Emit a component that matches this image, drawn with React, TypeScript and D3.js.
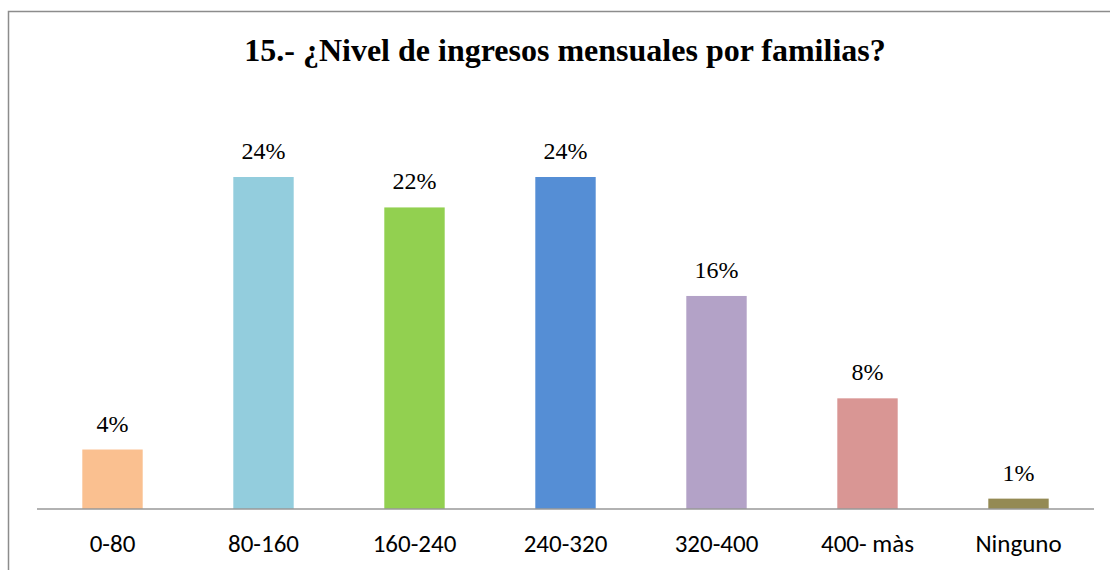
import React from "react";
import * as d3 from "d3";

const categories = ["0-80", "80-160", "160-240", "240-320", "320-400", "400- màs", "Ninguno"];
const values = [4.3, 24.0, 21.8, 24.0, 15.4, 8.0, 0.75];
const valueLabels = ["4%", "24%", "22%", "24%", "16%", "8%", "1%"];
const colors = ["#FAC090", "#93CDDD", "#92D050", "#558ED5", "#B3A2C7", "#D99694", "#948A54"];
const title = "15.- ¿Nivel de ingresos mensuales por familias?";

const serif = "'Times New Roman', 'Liberation Serif', serif";
const sans = "Carlito, Calibri, 'Liberation Sans', sans-serif";

export default function App() {
  const W = 1110, H = 570;
  const x = d3.scaleBand<string>().domain(categories).range([37, 1094]).paddingInner(0.6).paddingOuter(0.3);
  const y = d3.scaleLinear().domain([0, 24]).range([509, 177]);
  return (
    <svg width={W} height={H} style={{ position: "absolute", left: 0, top: 0, background: "#fff" }}>
      <rect x={8.5} y={11.5} width={1120} height={580} fill="#fff" stroke="#8c8c8c" strokeWidth={1.5} />
      <text x={565} y={61} textAnchor="middle" fontFamily={serif} fontWeight="bold" fontSize={32} fill="#000">{title}</text>
      {categories.map((c, i) => (
        <g key={c}>
          <rect x={x(c)} y={y(values[i])} width={x.bandwidth()} height={y(0) - y(values[i])} fill={colors[i]} />
          <text x={(x(c) as number) + x.bandwidth() / 2} y={y(values[i]) - 18} textAnchor="middle" fontFamily={serif} fontSize={24} fill="#000">{valueLabels[i]}</text>
          <text x={(x(c) as number) + x.bandwidth() / 2} y={552} textAnchor="middle" fontFamily={sans} fontSize={25} fill="#000">{c}</text>
        </g>
      ))}
      <line x1={37} x2={1094} y1={509} y2={509} stroke="#999" strokeWidth={1.5} />
    </svg>
  );
}
